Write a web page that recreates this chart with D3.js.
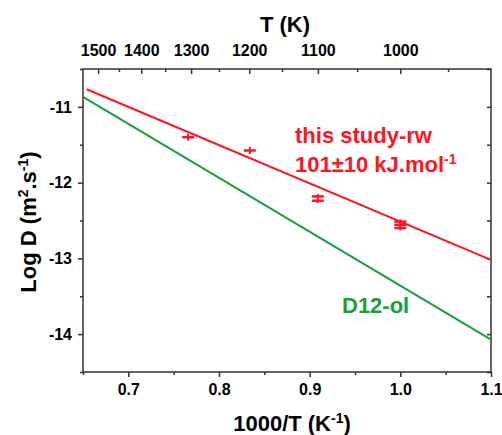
<!DOCTYPE html>
<html>
<head>
<meta charset="utf-8">
<script src="https://cdn.jsdelivr.net/npm/d3@7"></script>
<style>
  html, body { margin: 0; padding: 0; background: #fff; }
  svg { display: block; font-family: "Liberation Sans", Arial, sans-serif; font-weight: bold; }
</style>
</head>
<body>
<svg id="chart" width="502" height="435"></svg>
<script>
// ---- data ----
const xDomain = [0.65, 1.1];
const yDomain = [-14.5, -10.5];
const xTicks = [0.7, 0.8, 0.9, 1.0, 1.1];
const xMinorTicks = [0.65, 0.75, 0.85, 0.95, 1.05];
const yTicks = [-11, -12, -13, -14];
const yMinorTicks = [-10.5, -11.5, -12.5, -13.5, -14.5];
const tTicks = [1500, 1400, 1300, 1200, 1100, 1000];
const tMinorTicks = [1450, 1350, 1250, 1150, 1050, 950];

// this study-rw : fitted line endpoints
const rwFitX = [0.654, 1.1];
const rwFitY = [-10.767, -13.02];
// D12-ol line endpoints
const olX = [0.65, 1.1];
const olY = [-10.868, -14.074];
// measured points (1000/T, log D, error)
const ptX = [0.766, 0.834, 0.909, 0.909, 1.0, 1.0, 1.0];
const ptY = [-11.40, -11.576, -12.182, -12.239, -12.515, -12.557, -12.60];
const ptErr = [0.046, 0.046, 0.03, 0.03, 0.03, 0.05, 0.03];

// ---- layout ----
const L = 83, R = 491, T = 69, B = 372;
const red = "#ff1424", green = "#15a03c", axisCol = "#333";

const svg = d3.select("#chart");
const x = d3.scaleLinear().domain(xDomain).range([L, R]);
const y = d3.scaleLinear().domain(yDomain).range([B, T]);
const xT = d3.scalePow().exponent(-1).domain([1000 / xDomain[0], 1000 / xDomain[1]]).range([L, R]);

function styleAxis(g) {
  g.select(".domain").remove();
  g.selectAll(".tick line").attr("stroke", axisCol).attr("stroke-width", 1.5);
  g.selectAll(".tick text").attr("fill", "#000").style("font-size", "16px").style("font-weight", "bold")
   .style("font-family", "'Liberation Sans', Arial, sans-serif");
}

// bottom axis (outward)
svg.append("g").attr("transform", `translate(0,${B})`)
  .call(d3.axisBottom(x).tickValues(xTicks).tickFormat(d3.format(".1f")).tickSize(5).tickPadding(7))
  .call(styleAxis);
svg.append("g").attr("transform", `translate(0,${B})`)
  .call(d3.axisBottom(x).tickValues(xMinorTicks).tickFormat("").tickSize(3))
  .call(styleAxis);

// left axis (outward)
svg.append("g").attr("transform", `translate(${L},0)`)
  .call(d3.axisLeft(y).tickValues(yTicks).tickFormat(d => String(d)).tickSize(5).tickPadding(6))
  .call(styleAxis);
svg.append("g").attr("transform", `translate(${L},0)`)
  .call(d3.axisLeft(y).tickValues(yMinorTicks).tickFormat("").tickSize(3))
  .call(styleAxis);

// right axis (inward)
svg.append("g").attr("transform", `translate(${R},0)`)
  .call(d3.axisLeft(y).tickValues(yTicks.concat(yMinorTicks)).tickFormat("").tickSize(4))
  .call(styleAxis);

// top axis T (K) (ticks inward, labels above)
svg.append("g").attr("transform", `translate(0,${T})`)
  .call(d3.axisTop(xT).tickValues(tTicks).tickFormat(d3.format("d")).tickSize(-5).tickPadding(13))
  .call(styleAxis);
svg.append("g").attr("transform", `translate(0,${T})`)
  .call(d3.axisTop(xT).tickValues(tMinorTicks).tickFormat("").tickSize(-3))
  .call(styleAxis);

// frame
svg.append("rect").attr("x", L).attr("y", T).attr("width", R - L).attr("height", B - T)
  .attr("fill", "none").attr("stroke", axisCol).attr("stroke-width", 1.5);

// lines
const line = d3.line().x(d => x(d[0])).y(d => y(d[1]));
svg.append("path").datum(olX.map((v, i) => [v, olY[i]]))
  .attr("d", line).attr("fill", "none").attr("stroke", green).attr("stroke-width", 2);
svg.append("path").datum(rwFitX.map((v, i) => [v, rwFitY[i]]))
  .attr("d", line).attr("fill", "none").attr("stroke", red).attr("stroke-width", 2);

// points: vertical error bar + horizontal dash marker
const pts = ptX.map((v, i) => ({ x: v, y: ptY[i], e: ptErr[i] }));
const pg = svg.append("g");
pg.selectAll("line.err").data(pts).join("line")
  .attr("x1", d => x(d.x)).attr("x2", d => x(d.x))
  .attr("y1", d => y(d.y + d.e)).attr("y2", d => y(d.y - d.e))
  .attr("stroke", red).attr("stroke-width", 2);
pg.selectAll("line.mk").data(pts).join("line")
  .attr("x1", d => x(d.x) - 6).attr("x2", d => x(d.x) + 6)
  .attr("y1", d => y(d.y)).attr("y2", d => y(d.y))
  .attr("stroke", red).attr("stroke-width", 2.5);

// axis titles
svg.append("text").attr("x", 285).attr("y", 32).attr("text-anchor", "middle")
  .style("font-size", "22px").text("T (K)");

const xt = svg.append("text").attr("x", 292).attr("y", 431).attr("text-anchor", "middle")
  .style("font-size", "22px");
xt.append("tspan").text("1000/T (K");
xt.append("tspan").attr("dy", -8).style("font-size", "14px").text("-1");
xt.append("tspan").attr("dy", 8).text(")");

const yt = svg.append("text").attr("transform", "translate(36,222) rotate(-90)")
  .attr("text-anchor", "middle").style("font-size", "22px");
yt.append("tspan").text("Log D (m");
yt.append("tspan").attr("dy", -8).style("font-size", "14px").text("2");
yt.append("tspan").attr("dy", 8).text(".s");
yt.append("tspan").attr("dy", -8).style("font-size", "14px").text("-1");
yt.append("tspan").attr("dy", 8).text(")");

// annotations
svg.append("text").attr("x", 295).attr("y", 143).attr("fill", red)
  .style("font-size", "22px").text("this study-rw");
const an = svg.append("text").attr("x", 295).attr("y", 171.5).attr("fill", red).style("font-size", "22px");
an.append("tspan").text("101±10 kJ.mol");
an.append("tspan").attr("dy", -8).style("font-size", "14px").text("-1");

svg.append("text").attr("x", 342).attr("y", 313).attr("fill", green)
  .style("font-size", "22px").text("D12-ol");
</script>
</body>
</html>
